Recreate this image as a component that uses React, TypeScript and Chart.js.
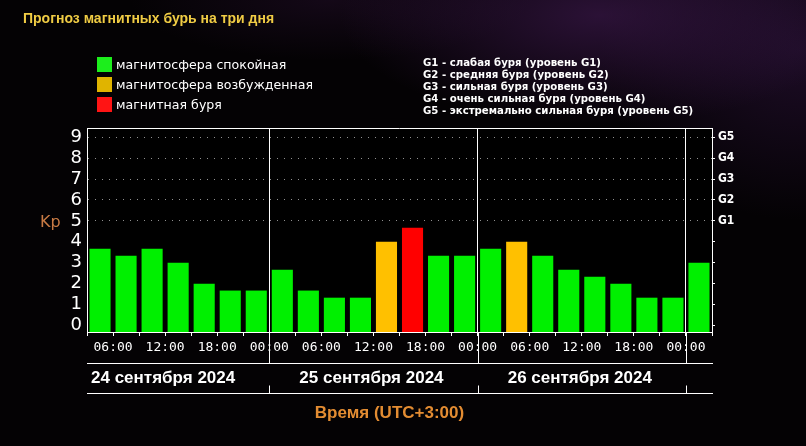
import React, { useEffect, useRef } from 'react';
import { Chart, registerables } from 'chart.js';

Chart.register(...registerables);

// ---- data ----
const TITLE = 'Прогноз магнитных бурь на три дня';
const LEGEND_ITEMS = ['магнитосфера спокойная', 'магнитосфера возбужденная', 'магнитная буря'];
const LEGEND_COLORS = ['#1cee1c', '#e0b400', '#ff1414'];
const G_LEGEND = [
  'G1 - слабая буря (уровень G1)',
  'G2 - средняя буря (уровень G2)',
  'G3 - сильная буря (уровень G3)',
  'G4 - очень сильная буря (уровень G4)',
  'G5 - экстремально сильная буря (уровень G5)',
];
const SLOTS = [
  '24.09 03-06', '24.09 06-09', '24.09 09-12', '24.09 12-15', '24.09 15-18', '24.09 18-21', '24.09 21-24',
  '25.09 00-03', '25.09 03-06', '25.09 06-09', '25.09 09-12', '25.09 12-15', '25.09 15-18', '25.09 18-21', '25.09 21-24',
  '26.09 00-03', '26.09 03-06', '26.09 06-09', '26.09 09-12', '26.09 12-15', '26.09 15-18', '26.09 18-21', '26.09 21-24',
  '27.09 00-03',
];
const KP = [
  3.67, 3.33, 3.67, 3.0, 2.0, 1.67, 1.67,
  2.67, 1.67, 1.33, 1.33, 4.0, 4.67, 3.33, 3.33,
  3.67, 4.0, 3.33, 2.67, 2.33, 2.0, 1.33, 1.33,
  3.0,
];
const KP_TICKS = [0, 1, 2, 3, 4, 5, 6, 7, 8, 9];
const G_LABELS = ['G1', 'G2', 'G3', 'G4', 'G5'];
const TIME_LABELS = ['06:00', '12:00', '18:00', '00:00', '06:00', '12:00', '18:00', '00:00', '06:00', '12:00', '18:00', '00:00'];
const DATE_LABELS = ['24 сентября 2024', '25 сентября 2024', '26 сентября 2024'];
const DATE_CENTER_HOURS = [12, 36, 60];
const DAY_BREAK_HOURS = [24, 48, 72];
const HOUR_MIN = 3;
const HOUR_MAX = 75;
const Y_MIN = -0.31;
const Y_MAX = 9.44;
const Y_LABEL = 'Kp';
const X_TITLE = 'Время (UTC+3:00)';

const barColor = (v: number) => (v >= 4.5 ? '#ff0000' : v >= 4 ? '#ffc000' : '#00f000');

const extras = {
  id: 'extras',
  beforeDraw(chart: any) {
    const { ctx, chartArea } = chart;
    ctx.save();
    ctx.fillStyle = '#000';
    ctx.fillRect(chartArea.left, chartArea.top, chartArea.right - chartArea.left, chartArea.bottom - chartArea.top);
    ctx.restore();
  },
  afterDraw(chart: any) {
    const { ctx, chartArea } = chart;
    const { left, right, top, bottom } = chartArea;
    const xt = chart.scales.xt;
    const y1 = bottom + 31.5;
    const y2 = bottom + 61.5;
    ctx.save();
    ctx.setLineDash([]);
    ctx.strokeStyle = '#fff';
    ctx.lineWidth = 1;
    ctx.beginPath();
    ctx.moveTo(left, top + 0.5);
    ctx.lineTo(right, top + 0.5);
    ctx.moveTo(left + 0.5, top);
    ctx.lineTo(left + 0.5, bottom);
    ctx.moveTo(right + 0.5, top);
    ctx.lineTo(right + 0.5, bottom);
    ctx.moveTo(left, y1);
    ctx.lineTo(right + 1, y1);
    ctx.moveTo(left, y2);
    ctx.lineTo(right + 1, y2);
    DAY_BREAK_HOURS.forEach((h) => {
      const x = Math.round(xt.getPixelForValue(h)) + 0.5;
      ctx.moveTo(x, bottom);
      ctx.lineTo(x, y1);
      ctx.moveTo(x, y2 - 8);
      ctx.lineTo(x, y2);
    });
    ctx.stroke();

    ctx.fillStyle = '#fff';
    ctx.font = 'bold 17px "Liberation Sans"';
    ctx.textAlign = 'center';
    ctx.textBaseline = 'alphabetic';
    DATE_LABELS.forEach((t, i) => {
      ctx.fillText(t, xt.getPixelForValue(DATE_CENTER_HOURS[i]) - 2, bottom + 51);
    });

    ctx.fillStyle = '#e38c32';
    ctx.fillText(X_TITLE, (left + right) / 2 - 10, bottom + 86);
    ctx.restore();
  },
};

export default function App() {
  const ref = useRef<HTMLCanvasElement | null>(null);

  useEffect(() => {
    if (!ref.current) return;
    const chart = new Chart(ref.current, {
      type: 'bar',
      data: {
        labels: SLOTS,
        datasets: [
          {
            data: KP,
            backgroundColor: KP.map(barColor),
            borderWidth: 0,
            base: Y_MIN,
            barPercentage: 0.81,
            categoryPercentage: 1,
            xAxisID: 'x',
            yAxisID: 'y',
          } as any,
        ],
      },
      options: {
        responsive: false,
        animation: false,
        devicePixelRatio: 1,
        layout: { padding: { top: 128, left: 0, right: 0, bottom: 0 } },
        plugins: {
          legend: { display: false },
          tooltip: { enabled: false },
          title: { display: false },
        },
        scales: {
          x: { type: 'category', display: false, offset: true },
          xt: {
            type: 'linear',
            position: 'bottom',
            offset: false,
            min: HOUR_MIN,
            max: HOUR_MAX,
            ticks: {
              stepSize: 3,
              autoSkip: false,
              maxRotation: 0,
              minRotation: 0,
              color: '#fff',
              padding: 4,
              font: { family: '"DejaVu Sans Mono"', size: 13 },
              callback: (v: any) => (v % 6 === 0 ? TIME_LABELS[v / 6 - 1] : ''),
            },
            grid: {
              offset: false,
              color: (c: any) => (c.tick && c.tick.value % 24 === 0 ? '#fff' : 'rgba(0,0,0,0)'),
              tickColor: '#fff',
              tickLength: 4,
              lineWidth: 1,
            },
            border: { color: '#fff', width: 1 },
            afterFit: (s: any) => {
              s.height = 114;
            },
          } as any,
          y: {
            position: 'left',
            min: Y_MIN,
            max: Y_MAX,
            afterBuildTicks: (s: any) => {
              s.ticks = KP_TICKS.map((v) => ({ value: v }));
            },
            ticks: {
              autoSkip: false,
              color: '#fff',
              padding: 5,
              font: { family: '"DejaVu Sans"', size: 18 },
            },
            grid: {
              color: (c: any) => (c.tick && c.tick.value >= 5 ? 'rgba(180,180,180,0.8)' : 'rgba(0,0,0,0)'),
              drawTicks: false,
              lineWidth: 1,
            },
            border: { color: '#fff', width: 1, dash: [1, 6] },
            afterFit: (s: any) => {
              s.width = 87;
            },
          } as any,
          y2: {
            position: 'right',
            min: Y_MIN,
            max: Y_MAX,
            afterBuildTicks: (s: any) => {
              s.ticks = KP_TICKS.map((v) => ({ value: v }));
            },
            ticks: {
              autoSkip: false,
              color: '#fff',
              padding: 3,
              font: { family: '"DejaVu Sans Condensed"', size: 12, weight: 'bold' },
              callback: (v: any) => (v >= 5 ? G_LABELS[v - 5] : ''),
            },
            grid: { drawOnChartArea: false, tickLength: 3, tickColor: '#fff' },
            border: { color: '#fff', width: 1 },
            afterFit: (s: any) => {
              s.width = 94;
            },
          } as any,
        },
      },
      plugins: [extras],
    });
    return () => chart.destroy();
  }, []);

  return (
    <div
      style={{
        position: 'absolute',
        left: 0,
        top: 0,
        width: 806,
        height: 446,
        overflow: 'hidden',
        background:
          'radial-gradient(ellipse 260px 110px at 600px 15px, rgba(75,30,95,0.55), rgba(0,0,0,0) 100%),' +
          'radial-gradient(ellipse 200px 170px at 800px 50px, rgba(60,25,80,0.45), rgba(0,0,0,0) 100%),' +
          'radial-gradient(ellipse 200px 60px at 330px 0px, rgba(50,20,60,0.35), rgba(0,0,0,0) 100%),' +
          '#040204',
      }}
    >
      <canvas ref={ref} width={806} height={446} style={{ position: 'absolute', left: 0, top: 0 }} />
      <div
        style={{
          position: 'absolute',
          left: 23,
          top: 10,
          font: 'bold 14px "Liberation Sans"',
          lineHeight: '16px',
          color: '#f0cc44',
          whiteSpace: 'nowrap',
        }}
      >
        {TITLE}
      </div>
      {LEGEND_ITEMS.map((t, i) => (
        <div
          key={t}
          style={{
            position: 'absolute',
            left: 97,
            top: 57 + 20 * i,
            height: 15,
            display: 'flex',
            alignItems: 'center',
            whiteSpace: 'nowrap',
          }}
        >
          <div style={{ width: 15, height: 15, background: LEGEND_COLORS[i], marginRight: 4 }} />
          <span style={{ font: '12.6px "DejaVu Sans"', color: '#fff', lineHeight: '15px' }}>{t}</span>
        </div>
      ))}
      <div
        style={{
          position: 'absolute',
          left: 423,
          top: 57,
          font: 'bold 11.3px "DejaVu Sans Condensed"',
          lineHeight: '12px',
          color: '#fff',
          whiteSpace: 'pre',
        }}
      >
        {G_LEGEND.join('\n')}
      </div>
      <div
        style={{
          position: 'absolute',
          left: 40,
          top: 212,
          font: '16px "DejaVu Sans"',
          lineHeight: '19px',
          color: '#c87a44',
        }}
      >
        {Y_LABEL}
      </div>
    </div>
  );
}
